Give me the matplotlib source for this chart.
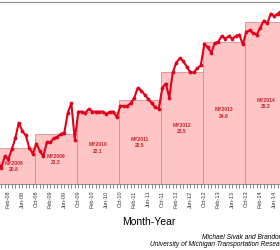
import numpy as np
import matplotlib
matplotlib.use('Agg')
import matplotlib.pyplot as plt

plt.rcParams['font.family'] = ['Liberation Sans', 'DejaVu Sans']

# monthly sales-weighted fuel economy (mpg), starting Oct-07
mpg = [20.1, 20.3, 20.1, 20.5, 20.4, 20.75, 21.15, 21.7, 21.4, 21.25, 20.8, 20.6,
       20.95, 20.7, 20.5, 21.0, 21.0, 21.15, 21.2, 21.3, 21.35, 22.05, 22.4, 21.1,
       22.1, 22.1, 22.05, 22.2, 22.1, 22.1, 22.1, 22.1, 22.0, 22.1, 22.1, 21.9,
       22.3, 22.3, 22.3, 22.4, 22.6, 22.95, 22.85, 22.7, 22.55, 22.4, 22.25, 22.2,
       22.95, 23.1, 22.6, 23.5, 23.85, 24.0, 23.9, 23.7, 23.5, 23.5, 23.65, 23.75,
       24.5, 24.4, 24.2, 24.55, 24.6, 24.8, 24.7, 24.8, 24.7, 24.8, 24.85, 24.5,
       24.95, 25.0, 24.9, 24.85, 25.1, 25.35, 25.25, 25.6, 25.5, 25.6, 25.7, 25.8]

# model year averages
my_names = ['MY2008', 'MY2009', 'MY2010', 'MY2011', 'MY2012', 'MY2013', 'MY2014']
my_mpg = [20.8, 21.3, 22.1, 22.5, 23.5, 24.6, 25.3]

# x tick labels, every 4 months starting Feb-08
tick_labels = ['Feb-08', 'Jun-08', 'Oct-08', 'Feb-09', 'Jun-09', 'Oct-09', 'Feb-10',
               'Jun-10', 'Oct-10', 'Feb-11', 'Jun-11', 'Oct-11', 'Feb-12', 'Jun-12',
               'Oct-12', 'Feb-13', 'Jun-13', 'Oct-13', 'Feb-14', 'Jun-14']

ymin, ymax = 19.5, 26.0

fig = plt.figure(figsize=(2.8, 2.5), dpi=100)
# axes runs past the left/right edges of the picture (cropped chart)
ax = fig.add_axes([-7.45 / 280, 1 - 184.4 / 250, 294.0 / 280, 182.0 / 250])

idx = np.arange(len(mpg))
centers = np.arange(len(my_mpg)) * 12 + 5.5

# model-year bars
ax.bar(centers, np.array(my_mpg) - ymin, bottom=ymin, width=12,
       color='#ffc4c4', edgecolor='#d98c94', linewidth=0.6, zorder=1)

for c, name, v in zip(centers, my_names, my_mpg):
    ax.text(c, (ymin + v) / 2, f'{name}\n{v}', ha='center', va='center',
            fontsize=3.6, color='#cc1f2a', fontweight='bold', linespacing=1.3, zorder=3)

# monthly line
ax.plot(idx, mpg, color='#e3001b', linewidth=1.5, marker='o', markersize=2.7,
        markeredgewidth=0, zorder=4)

ax.set_xlim(-0.5, 83.5)
ax.set_ylim(ymin, ymax)

ax.set_xticks(np.arange(4, 4 + 4 * len(tick_labels), 4))
ax.set_xticklabels(tick_labels, rotation=90, fontsize=4, color='#333333')
ax.set_xticks(idx, minor=True)
ax.tick_params(axis='x', which='both', direction='out', length=3, width=0.5,
               color='#555555', pad=1.5)
ax.set_yticks([])

for s in ['left', 'right']:
    ax.spines[s].set_visible(False)
ax.spines['top'].set_color('#8c8c8c')
ax.spines['top'].set_linewidth(0.8)
ax.spines['bottom'].set_color('#777777')
ax.spines['bottom'].set_linewidth(0.6)

fig.text(149 / 280, 1 - 222 / 250, 'Month-Year', ha='center', va='center', fontsize=7.5)
# credits run off the right edge, as in the cropped original
fig.text(201.7 / 280, 1 - 237.7 / 250, 'Michael Sivak and Brandon Schoettle',
         ha='left', va='center', fontsize=4.8, style='italic')
fig.text(150 / 280, 1 - 244.5 / 250, 'University of Michigan Transportation Research Institute',
         ha='left', va='center', fontsize=4.8, style='italic')

fig.savefig('out.png', dpi=100)
